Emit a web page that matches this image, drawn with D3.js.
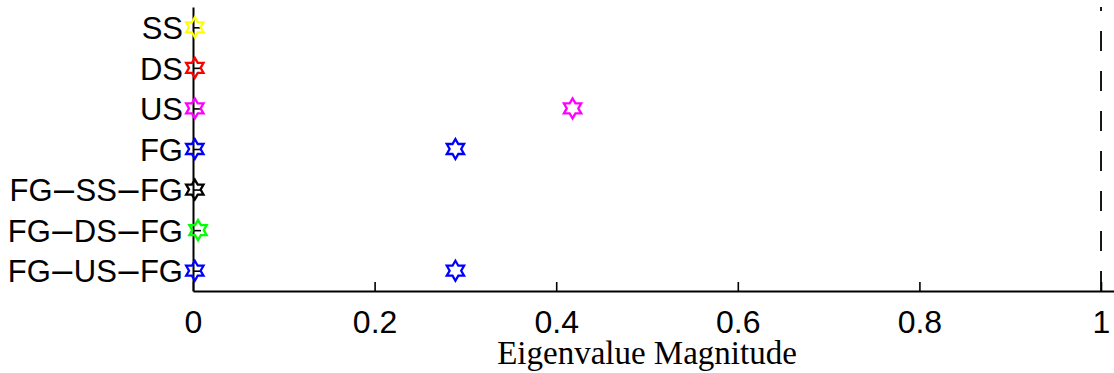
<!DOCTYPE html>
<html>
<head>
<meta charset="utf-8">
<script src="https://cdn.jsdelivr.net/npm/d3@7"></script>
<style>
  html, body { margin: 0; padding: 0; background: #fff; }
  svg { display: block; }
</style>
</head>
<body>
<svg id="chart" width="1114" height="373"></svg>
<script>
// Structures, listed top to bottom
const categories = ["SS", "DS", "US", "FG", "FG–SS–FG", "FG–DS–FG", "FG–US–FG"];
// Eigenvalue magnitudes found for each structure
const eigenvalues = [
  [0.002],
  [0.002],
  [0.002, 0.418],
  [0.002, 0.289],
  [0.002],
  [0.0055],
  [0.002, 0.289]
];
const markerColors = ["#ffff00", "#ff0000", "#ff00ff", "#0000ff", "#000000", "#00ff00", "#0000ff"];
const xTicks = [0, 0.2, 0.4, 0.6, 0.8, 1];
const xTickLabels = ["0", "0.2", "0.4", "0.6", "0.8", "1"];
const unitLine = 1;           // stability boundary |λ| = 1
const xLabel = "Eigenvalue Magnitude";

(function draw() {
  const svg = d3.select("#chart");
  const plotLeft = 193, plotRight = 1114, plotTop = 7, plotBottom = 291;

  const x = d3.scaleLinear().domain([0, 1.0143]).range([plotLeft, plotRight]);
  const y = d3.scaleLinear().domain([0.5, categories.length + 0.5]).range([plotTop, plotBottom]);

  const sans = "'Liberation Sans', Arial, Helvetica, sans-serif";

  // x axis along the bottom, ticks pointing inward
  const xAxis = d3.axisBottom(x)
    .tickValues(xTicks)
    .tickFormat((d, i) => xTickLabels[i])
    .tickSizeInner(-9)
    .tickSizeOuter(0)
    .tickPadding(20);
  const gx = svg.append("g").attr("transform", `translate(0,${plotBottom})`).call(xAxis);
  gx.select(".domain").attr("stroke", "#000").attr("stroke-width", 2);
  gx.selectAll(".tick line").attr("stroke", "#000").attr("stroke-width", 1.6);
  gx.selectAll(".tick text")
    .attr("font-family", sans).attr("font-size", 32).attr("fill", "#000")
    .attr("dy", "0.68em");

  // y axis on the left, category labels
  const yAxis = d3.axisLeft(y)
    .tickValues(d3.range(1, categories.length + 1))
    .tickFormat(d => categories[d - 1])
    .tickSizeInner(-8)
    .tickSizeOuter(0)
    .tickPadding(10);
  const gy = svg.append("g").attr("transform", `translate(${plotLeft},0)`).call(yAxis);
  gy.select(".domain").attr("stroke", "#000").attr("stroke-width", 2);
  gy.selectAll(".tick line").attr("stroke", "#000").attr("stroke-width", 1.6);
  gy.selectAll(".tick text")
    .attr("font-family", sans).attr("font-size", 31).attr("fill", "#000")
    .attr("x", -10).attr("dy", "0.36em")
    .each(function () {
      // set the dashes a little wider, as the tex interpreter spaces them
      const t = d3.select(this);
      const parts = t.text().split("–");
      t.text(null);
      parts.forEach((p, i) => {
        if (i > 0) {
          t.append("tspan").attr("font-size", 36).attr("dx", 1.5).text("–");
          t.append("tspan").attr("dx", 1.5).text(p);
        } else {
          t.append("tspan").text(p);
        }
      });
    });

  // dashed reference line at magnitude 1, dashes counted from the bottom
  svg.append("line")
    .attr("x1", x(unitLine)).attr("x2", x(unitLine))
    .attr("y1", plotBottom).attr("y2", plotTop)
    .attr("stroke", "#000").attr("stroke-width", 1.8)
    .attr("stroke-dasharray", "20,20");

  // six-pointed star markers
  const R = 10, r = R / Math.sqrt(3);
  const starPts = d3.range(12).map(i => {
    const a = -Math.PI / 2 + i * Math.PI / 6;
    const rad = i % 2 === 0 ? R : r;
    return [rad * Math.cos(a), rad * Math.sin(a)];
  });
  const starPath = "M" + starPts.map(p => p.join(",")).join("L") + "Z";

  const points = [];
  categories.forEach((c, i) => {
    eigenvalues[i].forEach(v => points.push({ row: i + 1, value: v, color: markerColors[i] }));
  });

  svg.append("g").selectAll("path")
    .data(points)
    .join("path")
    .attr("d", starPath)
    .attr("transform", d => `translate(${x(d.value)},${y(d.row)})`)
    .attr("fill", "none")
    .attr("stroke", d => d.color)
    .attr("stroke-width", 2.3)
    .attr("stroke-linejoin", "miter");

  // axis title
  svg.append("text")
    .attr("x", (x(0) + x(1)) / 2)
    .attr("y", 364)
    .attr("text-anchor", "middle")
    .attr("font-family", "'Liberation Serif', 'Times New Roman', serif")
    .attr("font-size", 33)
    .attr("fill", "#000")
    .text(xLabel);
})();
</script>
</body>
</html>
